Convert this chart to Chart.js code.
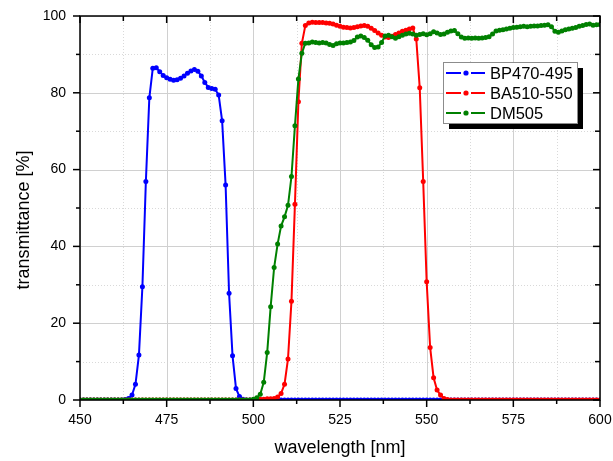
<!DOCTYPE html>
<html>
<head>
<meta charset="utf-8">
<script src="https://cdn.jsdelivr.net/npm/chart.js@4/dist/chart.umd.min.js"></script>
<style>
  html, body { margin: 0; padding: 0; background: #ffffff; }
  canvas { display: block; }
</style>
</head>
<body>
<canvas id="c" width="613" height="461"></canvas>
<script>
// Wavelength grid, nm (1 nm steps)
const wavelength = [
  450,451,452,453,454,455,456,457,458,459,
  460,461,462,463,464,465,466,467,468,469,
  470,471,472,473,474,475,476,477,478,479,
  480,481,482,483,484,485,486,487,488,489,
  490,491,492,493,494,495,496,497,498,499,
  500,501,502,503,504,505,506,507,508,509,
  510,511,512,513,514,515,516,517,518,519,
  520,521,522,523,524,525,526,527,528,529,
  530,531,532,533,534,535,536,537,538,539,
  540,541,542,543,544,545,546,547,548,549,
  550,551,552,553,554,555,556,557,558,559,
  560,561,562,563,564,565,566,567,568,569,
  570,571,572,573,574,575,576,577,578,579,
  580,581,582,583,584,585,586,587,588,589,
  590,591,592,593,594,595,596,597,598,599,
  600
];

// Excitation filter BP470-495, transmittance %
const bp470_495 = [
  0,0,0,0,0,0,0,0,0,0,
  0,0,0,0.1,0.4,1.3,4.1,11.7,29.5,56.9,
  78.7,86.4,86.5,85.5,84.5,83.9,83.5,83.3,83.4,83.8,
  84.4,85.1,85.7,86.1,85.6,84.4,82.7,81.4,81.1,80.9,
  79.4,72.7,56.0,27.8,11.5,3.0,0.9,0.2,0,0,
  0,0,0,0,0,0,0,0,0,0,
  0,0,0,0,0,0,0,0,0,0,
  0,0,0,0,0,0,0,0,0,0,
  0,0,0,0,0,0,0,0,0,0,
  0,0,0,0,0,0,0,0,0,0,
  0,0,0,0,0,0,0,0,0,0,
  0,0,0,0,0,0,0,0,0,0,
  0,0,0,0,0,0,0,0,0,0,
  0,0,0,0,0,0,0,0,0,0,
  0,0,0,0,0,0,0,0,0,0,
  0
];

// Barrier filter BA510-550, transmittance %
const ba510_550 = [
  0,0,0,0,0,0,0,0,0,0,
  0,0,0,0,0,0,0,0,0,0,
  0,0,0,0,0,0,0,0,0,0,
  0,0,0,0,0,0,0,0,0,0,
  0,0,0,0,0,0,0,0,0,0,
  0,0.1,0.2,0.2,0.3,0.3,0.4,0.8,1.7,4.1,
  10.7,25.7,51.0,77.7,92.9,97.5,98.2,98.4,98.3,98.3,
  98.3,98.2,98.1,97.9,97.6,97.3,97.1,97.0,96.9,97.0,
  97.2,97.4,97.5,97.3,96.8,96.2,95.6,95.0,94.5,94.4,
  94.7,95.2,95.6,96.0,96.3,96.6,96.9,94.0,81.3,56.9,
  30.8,13.7,5.8,2.6,1.3,0.4,0.1,0,0,0,
  0,0,0,0,0,0,0,0,0,0,
  0,0,0,0,0,0,0,0,0,0,
  0,0,0,0,0,0,0,0,0,0,
  0,0,0,0,0,0,0,0,0,0,
  0
];

// Dichroic mirror DM505, transmittance %
const dm505 = [
  0,0,0,0,0,0,0,0,0,0,
  0,0,0,0,0,0,0,0,0,0,
  0,0,0,0,0,0,0,0,0,0,
  0,0,0,0,0,0,0,0,0,0,
  0,0,0,0,0,0,0,0,0,0,
  0.2,0.6,1.5,4.6,12.4,24.3,34.5,40.6,45.3,47.7,
  50.7,58.2,71.4,83.6,90.3,92.9,93.0,93.2,93.1,93.0,
  93.1,93.0,92.6,92.3,92.8,93.0,93.0,93.1,93.2,93.6,
  94.5,94.8,94.4,93.7,92.5,91.8,91.9,93.1,94.8,95.0,
  94.6,94.2,94.6,95.0,95.3,95.5,95.3,95.0,95.2,95.4,
  95.1,95.4,95.9,95.6,95.2,95.3,95.8,96.1,96.2,95.4,
  94.5,94.2,94.3,94.2,94.3,94.2,94.3,94.4,94.6,95.3,
  96.1,96.3,96.4,96.6,96.8,97.0,97.1,97.2,97.3,97.2,
  97.3,97.4,97.4,97.5,97.6,97.7,97.2,96.0,95.8,96.1,
  96.4,96.6,96.8,97.0,97.3,97.5,97.8,97.9,97.6,97.7,
  97.8
];

const seriesNames  = ['BP470-495', 'BA510-550', 'DM505'];
const seriesColors = ['#0000ff', '#ff0000', '#008000'];

const xMajorTicks = [450, 475, 500, 525, 550, 575, 600];
const xMinorTicks = [462.5, 487.5, 512.5, 537.5, 562.5, 587.5];
const yMajorTicks = [0, 20, 40, 60, 80, 100];
const yMinorTicks = [10, 30, 50, 70, 90];

const xTitle = 'wavelength [nm]';
const yTitle = 'transmittance [%]';

const FONT = '"Liberation Sans", Arial, Helvetica, sans-serif';

function toPoints(values) {
  return wavelength.map((w, i) => ({ x: w, y: values[i] }));
}

// Grid, boxed frame with in/out ticks, axis titles and shadowed legend
const framePlugin = {
  id: 'frame',
  beforeDatasetsDraw(chart) {
    const { ctx, chartArea: a, scales: { x, y } } = chart;
    ctx.save();
    ctx.lineWidth = 1;
    ctx.strokeStyle = '#d9d9d9';
    ctx.setLineDash([1, 2]);
    xMinorTicks.forEach(v => {
      const px = Math.round(x.getPixelForValue(v)) + 0.5;
      ctx.beginPath(); ctx.moveTo(px, a.top); ctx.lineTo(px, a.bottom); ctx.stroke();
    });
    yMinorTicks.forEach(v => {
      const py = Math.round(y.getPixelForValue(v)) + 0.5;
      ctx.beginPath(); ctx.moveTo(a.left, py); ctx.lineTo(a.right, py); ctx.stroke();
    });
    ctx.setLineDash([]);
    ctx.strokeStyle = '#d0d0d0';
    xMajorTicks.forEach(v => {
      const px = Math.round(x.getPixelForValue(v)) + 0.5;
      ctx.beginPath(); ctx.moveTo(px, a.top); ctx.lineTo(px, a.bottom); ctx.stroke();
    });
    yMajorTicks.forEach(v => {
      const py = Math.round(y.getPixelForValue(v)) + 0.5;
      ctx.beginPath(); ctx.moveTo(a.left, py); ctx.lineTo(a.right, py); ctx.stroke();
    });
    ctx.restore();
  },
  afterDatasetsDraw(chart) {
    const { ctx, chartArea: a, scales: { x, y } } = chart;
    ctx.save();
    ctx.strokeStyle = '#000000';
    ctx.lineWidth = 1.5;
    ctx.strokeRect(a.left, a.top, a.right - a.left, a.bottom - a.top);
    const tick = (x1, y1, x2, y2) => { ctx.beginPath(); ctx.moveTo(x1, y1); ctx.lineTo(x2, y2); ctx.stroke(); };
    xMajorTicks.forEach(v => {
      const px = x.getPixelForValue(v);
      tick(px, a.bottom, px, a.bottom + 7);
      tick(px, a.top, px, a.top + 7);
    });
    xMinorTicks.forEach(v => {
      const px = x.getPixelForValue(v);
      tick(px, a.bottom, px, a.bottom + 4);
      tick(px, a.top, px, a.top + 5);
    });
    yMajorTicks.forEach(v => {
      const py = y.getPixelForValue(v);
      tick(a.left - 7, py, a.left, py);
      tick(a.right - 7, py, a.right, py);
    });
    yMinorTicks.forEach(v => {
      const py = y.getPixelForValue(v);
      tick(a.left - 4, py, a.left, py);
      tick(a.right - 5, py, a.right, py);
    });
    ctx.restore();
  },
  afterDraw(chart) {
    const { ctx, chartArea: a } = chart;
    ctx.save();
    // axis titles
    ctx.fillStyle = '#000000';
    ctx.font = '18px ' + FONT;
    ctx.textAlign = 'center';
    ctx.textBaseline = 'middle';
    ctx.fillText(xTitle, (a.left + a.right) / 2, a.bottom + 48);
    ctx.translate(24, a.top + 204);
    ctx.rotate(-Math.PI / 2);
    ctx.fillText(yTitle, 0, 0);
    ctx.restore();

    // legend box with drop shadow
    ctx.save();
    const bx = a.right - 157, by = a.top + 46, bw = 134, bh = 61;
    ctx.fillStyle = '#000000';
    ctx.fillRect(bx + 6, by + 6, bw, bh);
    ctx.fillStyle = '#ffffff';
    ctx.fillRect(bx, by, bw, bh);
    ctx.strokeStyle = '#8c8c8c';
    ctx.lineWidth = 1;
    ctx.strokeRect(bx + 0.5, by + 0.5, bw, bh);
    ctx.font = '16.5px ' + FONT;
    ctx.textAlign = 'left';
    ctx.textBaseline = 'middle';
    chart.data.datasets.forEach((ds, i) => {
      const ry = by + 11 + i * 20;
      ctx.strokeStyle = ds.borderColor;
      ctx.lineWidth = 2;
      ctx.beginPath(); ctx.moveTo(bx + 3, ry); ctx.lineTo(bx + 18, ry); ctx.stroke();
      ctx.beginPath(); ctx.moveTo(bx + 28, ry); ctx.lineTo(bx + 42, ry); ctx.stroke();
      ctx.fillStyle = ds.borderColor;
      ctx.beginPath(); ctx.arc(bx + 23, ry, 2.6, 0, Math.PI * 2); ctx.fill();
      ctx.fillStyle = '#000000';
      ctx.fillText(ds.label, bx + 47, ry + 1);
    });
    ctx.restore();
  }
};

const seriesValues = [bp470_495, ba510_550, dm505];
const drawOrder = [3, 2, 1];

new Chart(document.getElementById('c'), {
  type: 'line',
  data: {
    datasets: seriesValues.map((vals, i) => ({
      label: seriesNames[i],
      data: toPoints(vals),
      borderColor: seriesColors[i],
      backgroundColor: seriesColors[i],
      borderWidth: 2,
      pointRadius: 2.5,
      pointBorderWidth: 0,
      pointHoverRadius: 2.5,
      tension: 0,
      fill: false,
      order: drawOrder[i]
    }))
  },
  options: {
    responsive: false,
    animation: false,
    devicePixelRatio: 1,
    layout: { padding: { left: 0, right: 13, top: 16, bottom: 0 } },
    plugins: { legend: { display: false }, tooltip: { enabled: false } },
    scales: {
      x: {
        type: 'linear',
        min: 450, max: 600,
        grid: { display: false, drawTicks: false },
        border: { display: false },
        afterBuildTicks: s => { s.ticks = xMajorTicks.map(v => ({ value: v })); },
        afterFit: s => { s.height = 61; s.paddingLeft = 0; s.paddingRight = 0; },
        ticks: {
          color: '#000000',
          padding: 12,
          maxRotation: 0,
          font: { family: FONT, size: 14 }
        }
      },
      y: {
        type: 'linear',
        min: 0, max: 100,
        grid: { display: false, drawTicks: false },
        border: { display: false },
        afterBuildTicks: s => { s.ticks = yMajorTicks.map(v => ({ value: v })); },
        afterFit: s => { s.width = 80; s.paddingTop = 0; s.paddingBottom = 0; },
        ticks: {
          color: '#000000',
          padding: 14,
          font: { family: FONT, size: 14 }
        }
      }
    }
  },
  plugins: [framePlugin]
});
</script>
</body>
</html>
